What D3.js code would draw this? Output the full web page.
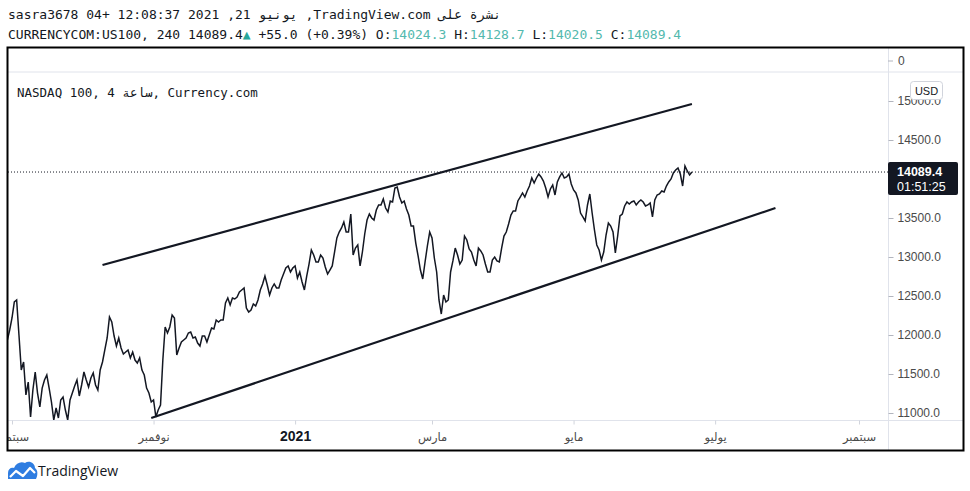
<!DOCTYPE html>
<html><head><meta charset="utf-8">
<script src="https://cdn.jsdelivr.net/npm/d3@7"></script>
<style>body{margin:0;background:#fff;overflow:hidden}</style>
</head><body>
<svg id="chart" width="970" height="491"></svg>
<script>
// ---------- data ----------
const startDate = "2020-08-30";           // first daily point, one point per day
const closes = [
11936,12064,12218,12423,12449,12000,11551,11654,11231,11397,
10949,11295,11526,11256,11077,11320,11423,11487,11320,11141,
10910,11064,10936,11167,11205,11038,10910,11167,11256,11346,
11423,11218,11359,11526,11423,11333,11449,11513,11359,11295,
11551,11654,11808,11962,12231,12167,11987,11859,11962,11833,
11756,11782,11808,11705,11782,11679,11641,11705,11551,11487,
11320,11256,11141,11167,10949,11038,11103,11679,12103,12026,
12103,12256,12218,11744,11833,11910,11936,11962,12026,12038,
11962,11974,11897,11859,11987,11987,11910,12000,12090,12077,
12192,12167,12192,12192,12410,12474,12385,12474,12462,12487,
12551,12577,12603,12346,12295,12320,12397,12372,12449,12577,
12654,12756,12641,12513,12603,12654,12603,12603,12705,12782,
12859,12885,12808,12859,12885,12731,12808,12680,12577,12756,
12910,13090,13026,12936,12936,13026,12987,12872,12782,12833,
12885,13064,13244,13320,13372,13449,13320,13320,13551,13026,
13115,13154,12885,13064,13295,13474,13551,13500,13474,13602,
13667,13667,13744,13628,13577,13718,13705,13885,13897,13769,
13692,13718,13615,13538,13397,13397,13179,13013,12833,12718,
12936,13141,13320,13244,12987,12808,12449,12269,12513,12423,
12449,12808,12949,13115,13026,12910,12961,13269,13218,13103,
13064,12961,12885,13115,13077,13026,12910,12808,12808,12961,
13000,12949,12936,13115,13269,13320,13423,13538,13590,13590,
13718,13769,13821,13769,13846,13910,14013,13949,14013,14064,
14026,13974,13885,13769,13872,13923,13795,13962,14026,14077,
14013,14026,14064,13936,13859,13821,13731,13564,13513,13462,
13667,13808,13564,13346,13154,13090,12961,13064,13282,13436,
13397,13320,13051,13269,13526,13551,13654,13705,13679,13705,
13718,13667,13705,13731,13705,13654,13667,13692,13513,13731,
13795,13808,13846,13833,13910,13962,14000,14077,14115,14141,
14064,13910,14167,14103,14051,14089.4
];
const priceTicks = [11000,11500,12000,12500,13000,13500,14000,14500,15000];
const topPaneTicks = ["0"];
const timeTickDates = ["2020-09-01","2020-11-01","2021-01-01","2021-03-01","2021-05-01","2021-07-01","2021-09-01"];
const timeTickLabels = ["سبتمبر","نوفمبر","2021","مارس","مايو","يوليو","سبتمبر"];
const upperChannel = [["2020-10-10",12897],["2021-06-21",14962]];
const lowerChannel = [["2020-10-31",10936],["2021-07-27",13628]];
const lastPrice = 14089.4;
const ohlc = {O:"14024.3", H:"14128.7", L:"14020.5", C:"14089.4"};
const changeText = "+55.0 (+0.39%)";
const countdown = "01:51:25";
const headerLine1 = "sasra3678 04+ 12:08:37 2021 ,21 يونيو ,TradingView.com نشرة على";
const symbolText = "CURRENCYCOM:US100, 240 14089.4";
const paneLegend = "NASDAQ 100, 4 ساعة, Currency.com";
const currency = "USD";

// ---------- layout ----------
const svg = d3.select("#chart");
const F = {l:8, r:963, t:48, b:450};      // outer frame
const P = {l:8, r:888, t:72, b:420};      // main pane
const parse = d3.timeParse("%Y-%m-%d");
const x = d3.scaleTime().domain([parse("2020-09-01"), parse("2021-09-01")]).range([12, 859]);
const y = d3.scaleLinear().domain([11000, 15000]).range([413, 101]);
const t0 = parse(startDate);
const series = closes.map((v,i)=>({date:d3.timeDay.offset(t0,i), v}));

const defs = svg.append("defs");
defs.append("clipPath").attr("id","pane").append("rect")
  .attr("x",P.l).attr("y",P.t).attr("width",P.r-P.l).attr("height",P.b-P.t);
defs.append("clipPath").attr("id","frame").append("rect")
  .attr("x",F.l).attr("y",F.t).attr("width",F.r-F.l).attr("height",F.b-F.t);

svg.append("rect").attr("width",970).attr("height",491).attr("fill","#fff");

// header
const mono = "'DejaVu Sans Mono', 'Liberation Mono', monospace";
svg.append("text").attr("x",8).attr("y",19).attr("font-family",mono).attr("font-size",13)
  .attr("fill","#131722").attr("direction","ltr").text(headerLine1);
const h2 = svg.append("text").attr("x",8).attr("y",39).attr("font-family",mono).attr("font-size",13)
  .attr("fill","#131722").attr("xml:space","preserve");
h2.append("tspan").text(symbolText);
h2.append("tspan").attr("fill","#26a69a").text("▲");
h2.append("tspan").text(" " + changeText + " O:");
h2.append("tspan").attr("fill","#53b9ae").text(ohlc.O);
h2.append("tspan").text(" H:");
h2.append("tspan").attr("fill","#53b9ae").text(ohlc.H);
h2.append("tspan").text(" L:");
h2.append("tspan").attr("fill","#53b9ae").text(ohlc.L);
h2.append("tspan").text(" C:");
h2.append("tspan").attr("fill","#53b9ae").text(ohlc.C);

// separators
const sep = "#e0e3eb";
svg.append("line").attr("x1",F.l).attr("x2",F.r).attr("y1",P.t).attr("y2",P.t).attr("stroke",sep);
svg.append("line").attr("x1",F.l).attr("x2",F.r).attr("y1",P.b+0.5).attr("y2",P.b+0.5).attr("stroke",sep);
svg.append("line").attr("x1",P.r+0.5).attr("x2",P.r+0.5).attr("y1",F.t).attr("y2",F.b).attr("stroke",sep);

// pane legend
svg.append("text").attr("x",17).attr("y",97).attr("font-family",mono).attr("font-size",12.5)
  .attr("fill","#131722").text(paneLegend);

// price axis
const sans = "'Liberation Sans', Arial, 'DejaVu Sans', sans-serif";
const ly = y(lastPrice);
const yAx = svg.append("g").attr("transform",`translate(${P.r+0.5},0)`)
  .call(d3.axisRight(y).tickValues(priceTicks).tickFormat(d3.format(".1f")).tickSize(5).tickPadding(4));
yAx.select(".domain").remove();
yAx.selectAll("line").attr("stroke","#b2b5be");
yAx.selectAll("text").attr("font-family",sans).attr("font-size",12).attr("fill","#4a4a4a")
  .attr("display", d => Math.abs(y(d) - ly) < 20 ? "none" : null);   // hidden under the last-price badge

// top pane tick "0"
const topY = (F.t + P.t)/2 + 1;
topPaneTicks.forEach(t=>{
  svg.append("line").attr("x1",P.r).attr("x2",P.r+5).attr("y1",topY).attr("y2",topY).attr("stroke","#b2b5be");
  svg.append("text").attr("x",P.r+10).attr("y",topY).attr("dy","0.32em").attr("font-family",sans)
    .attr("font-size",12).attr("fill","#4a4a4a").text(t);
});

// time axis
const tAx = svg.append("g").attr("clip-path","url(#frame)").append("g")
  .attr("transform",`translate(0,${P.b+0.5})`)
  .call(d3.axisBottom(x).tickValues(timeTickDates.map(parse))
    .tickFormat((d,i)=>timeTickLabels[i]).tickSize(4).tickPadding(8));
tAx.select(".domain").remove();
tAx.selectAll("line").attr("stroke","#d1d4dc");
tAx.selectAll("text").attr("font-family",sans).attr("font-size",11.5).attr("fill","#4a4a4a")
  .each(function(d,i){ if(timeTickLabels[i]==="2021"){ d3.select(this).attr("font-weight","bold").attr("font-size",14).attr("fill","#131722").attr("dy","0.6em"); }});

// main pane content
const pane = svg.append("g").attr("clip-path","url(#pane)");
pane.append("line").attr("x1",P.l).attr("x2",P.r).attr("y1",ly).attr("y2",ly)
  .attr("stroke","#131722").attr("stroke-dasharray","1,2");
pane.append("path").datum(series)
  .attr("d", d3.line().x(d=>x(d.date)).y(d=>y(d.v)))
  .attr("fill","none").attr("stroke","#131722").attr("stroke-width",1.5).attr("stroke-linejoin","miter");
[upperChannel, lowerChannel].forEach(ch=>{
  pane.append("path").datum(ch.map(([d,v])=>({date:parse(d),v})))
    .attr("d", d3.line().x(d=>x(d.date)).y(d=>y(d.v)))
    .attr("fill","none").attr("stroke","#131722").attr("stroke-width",2.2);
});

// USD badge
svg.append("rect").attr("x",910.5).attr("y",81.5).attr("width",32).attr("height",18).attr("rx",3)
  .attr("fill","#fff").attr("stroke","#d1d4dc");
svg.append("text").attr("x",926.5).attr("y",91).attr("dy","0.35em").attr("text-anchor","middle")
  .attr("font-family",sans).attr("font-size",11).attr("fill","#131722").text(currency);

// last price badge
svg.append("rect").attr("x",P.r).attr("y",ly-10).attr("width",70).attr("height",33).attr("rx",2).attr("fill","#131722");
svg.append("text").attr("x",P.r+9).attr("y",ly-0.5).attr("dy","0.35em").attr("font-family",sans)
  .attr("font-size",12.5).attr("font-weight","bold").attr("fill","#fff").text(d3.format(".1f")(lastPrice));
svg.append("text").attr("x",P.r+9).attr("y",ly+14.5).attr("dy","0.35em").attr("font-family",sans)
  .attr("font-size",12.5).attr("fill","#fff").text(countdown);

// frame
svg.append("rect").attr("x",F.l-0.5).attr("y",F.t-0.5).attr("width",F.r-F.l+1).attr("height",F.b-F.t+1)
  .attr("fill","none").attr("stroke","#000").attr("stroke-width",2);

// logo
const logo = svg.append("g");
logo.append("path").attr("d","M8,479 L8,473 C8,469 11,467 14,468 C16,463 21,461 25,463 C29,460 35,463 35,468 C38,470 38,475 36,479 Z")
  .attr("fill","#2f7de1");
logo.append("path").attr("d","M10,477 L16,471 L23,476 L30,468 L35,473").attr("fill","none")
  .attr("stroke","#fff").attr("stroke-width",2.2).attr("stroke-linejoin","round");
svg.append("text").attr("x",38).attr("y",476).attr("font-family","'Open Sans', 'Noto Sans', sans-serif")
  .attr("font-size",14).attr("fill","#131722").text("TradingView");
</script>
</body></html>
